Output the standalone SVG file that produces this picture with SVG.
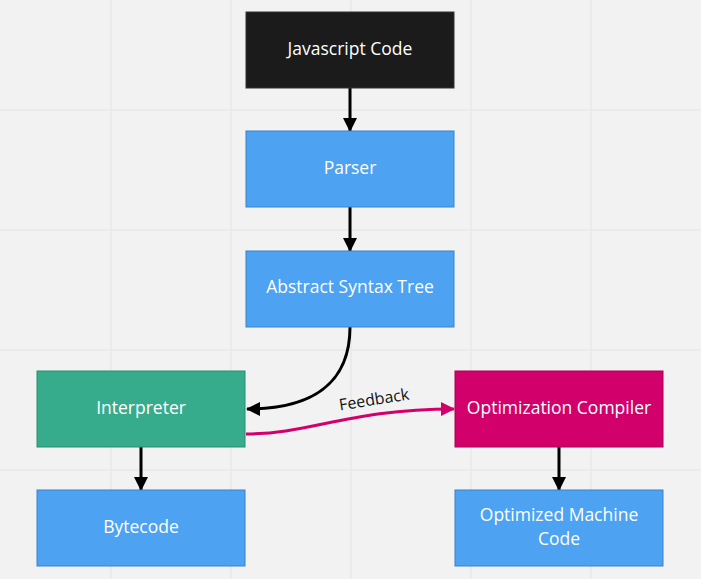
<svg xmlns="http://www.w3.org/2000/svg" width="701" height="579" viewBox="0 0 701 579">
<style>
.grid{stroke:#e8e8e8;stroke-width:1.5}
.box{stroke-width:1}
.blue{fill:#4da2f2;stroke:#3b82c8}
.lbl{font-family:"Open Sans","Noto Sans",sans-serif;font-size:17.5px;fill:#ffffff;text-anchor:middle;dominant-baseline:central}
.edge{fill:none;stroke:#000;stroke-width:3}
</style>
<defs>
<marker id="ah" viewBox="0 0 14 14" refX="13" refY="7" markerWidth="14" markerHeight="14" markerUnits="userSpaceOnUse" orient="auto">
<path d="M0,0 L14,7 L0,14 Z" fill="#000"/>
</marker>
<marker id="ahm" viewBox="0 0 14 14" refX="13" refY="7" markerWidth="14" markerHeight="14" markerUnits="userSpaceOnUse" orient="auto">
<path d="M0,0 L14,7 L0,14 Z" fill="#d2006b"/>
</marker>
</defs>
<rect width="701" height="579" fill="#f2f2f2"/>
<g id="grid">
<line class="grid" x1="111" y1="0" x2="111" y2="579"/>
<line class="grid" x1="231" y1="0" x2="231" y2="579"/>
<line class="grid" x1="351" y1="0" x2="351" y2="579"/>
<line class="grid" x1="471" y1="0" x2="471" y2="579"/>
<line class="grid" x1="591" y1="0" x2="591" y2="579"/>
<line class="grid" x1="0" y1="110" x2="701" y2="110"/>
<line class="grid" x1="0" y1="230" x2="701" y2="230"/>
<line class="grid" x1="0" y1="350" x2="701" y2="350"/>
<line class="grid" x1="0" y1="470" x2="701" y2="470"/>
</g>
<g id="connectors">
<line class="edge" x1="350" y1="88" x2="350" y2="131" marker-end="url(#ah)"/>
<line class="edge" x1="350" y1="207" x2="350" y2="251" marker-end="url(#ah)"/>
<path class="edge" d="M350,327 C350,385 310,409 247,409" marker-end="url(#ah)"/>
<line class="edge" x1="141" y1="447" x2="141" y2="490" marker-end="url(#ah)"/>
<line class="edge" x1="559" y1="447" x2="559" y2="490" marker-end="url(#ah)"/>
<path d="M246,434 C310,434 350,409 454,409" fill="none" stroke="#d2006b" stroke-width="3" marker-end="url(#ahm)"/>
<text x="374" y="399" transform="rotate(-9 374 399)" font-family="'Open Sans','Noto Sans',sans-serif" font-size="16" fill="#111" text-anchor="middle" dominant-baseline="central">Feedback</text>
</g>
<g id="js">
<rect class="box" x="246" y="12" width="208" height="76" fill="#1b1b1b" stroke="#333"/>
<text class="lbl" x="350" y="48">Javascript Code</text>
</g>
<g id="parser">
<rect class="box blue" x="246" y="131" width="208" height="76"/>
<text class="lbl" x="350" y="167">Parser</text>
</g>
<g id="ast">
<rect class="box blue" x="246" y="251" width="208" height="76"/>
<text class="lbl" x="350" y="286">Abstract Syntax Tree</text>
</g>
<g id="interpreter">
<rect class="box" x="37" y="371" width="208" height="76" fill="#37ac8d" stroke="#2a8c70"/>
<text class="lbl" x="141" y="407">Interpreter</text>
</g>
<g id="bytecode">
<rect class="box blue" x="37" y="490" width="208" height="76"/>
<text class="lbl" x="141" y="526">Bytecode</text>
</g>
<g id="optcompiler">
<rect class="box" x="455" y="371" width="208" height="76" fill="#d2006b" stroke="#a80056"/>
<text class="lbl" x="559" y="407">Optimization Compiler</text>
</g>
<g id="omc">
<rect class="box blue" x="455" y="490" width="208" height="76"/>
<text class="lbl" x="559" y="514">Optimized Machine</text>
<text class="lbl" x="559" y="538">Code</text>
</g>
</svg>
